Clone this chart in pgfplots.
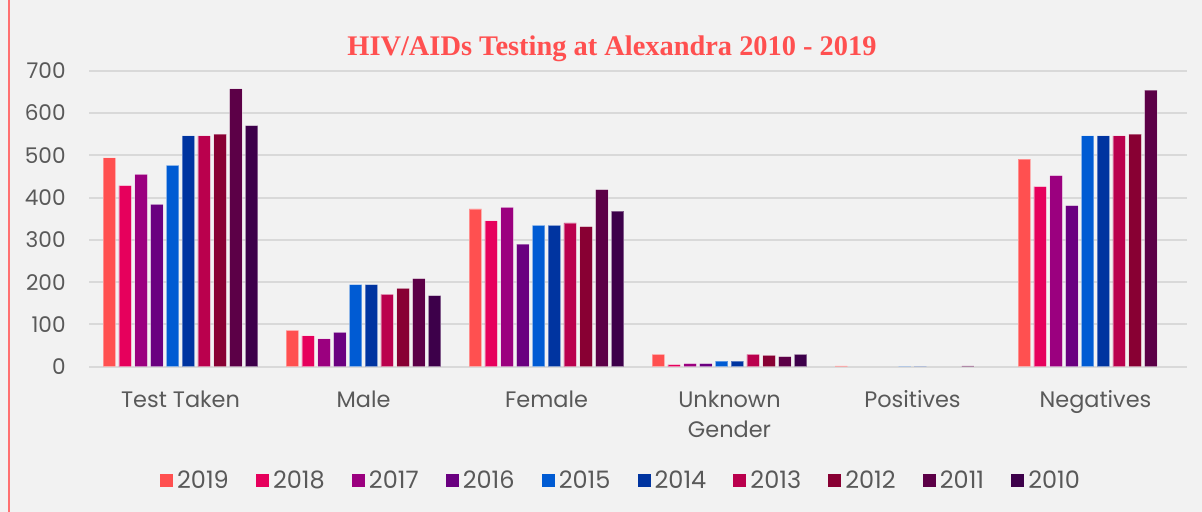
\documentclass[border=0pt]{standalone}
\usepackage{fontspec}
\setmainfont{Poppins}
\newfontfamily\titlefont{Liberation Serif}
\usepackage{pgfplots}
\pgfplotsset{compat=1.18}
\definecolor{bgcol}{HTML}{F2F2F2}
\definecolor{bordercol}{HTML}{FF7070}
\definecolor{gridcol}{HTML}{D9D9D9}
\definecolor{labcol}{HTML}{595959}
\definecolor{titlecol}{HTML}{FF5050}
\definecolor{c2019}{HTML}{FF5050}
\definecolor{c2018}{HTML}{E6005C}
\definecolor{c2017}{HTML}{9B007F}
\definecolor{c2016}{HTML}{6A0080}
\definecolor{c2015}{HTML}{005BD3}
\definecolor{c2014}{HTML}{0034A0}
\definecolor{c2013}{HTML}{BA004D}
\definecolor{c2012}{HTML}{880033}
\definecolor{c2011}{HTML}{5C0047}
\definecolor{c2010}{HTML}{3D004A}
\begin{document}
\begin{tikzpicture}
\fill[bgcol] (-44.5pt,-72.65pt) rectangle (556.5pt,183.35pt);
\useasboundingbox (-44.5pt,-72.65pt) rectangle (556.5pt,183.35pt);
\draw[bordercol, line width=1pt] (-40pt,-72.65pt) -- (-40pt,183.35pt);
\begin{axis}[
  at={(0pt,0pt)}, anchor=south west,
  scale only axis, width=549pt, height=148pt,
  xmin=-0.5, xmax=5.5, ymin=0, ymax=700,
  ybar=1.65pt, bar width=6.25pt,
  axis line style={draw=none}, tick style={draw=none},
  ymajorgrids, grid style={color=gridcol, line width=1pt},
  ytick={0,100,...,700},
  xtick={0,...,5},
  xticklabels={Test Taken, Male, Female, {Unknown\\Gender}, Positives, Negatives},
  xticklabel style={align=center, anchor=north, inner sep=0pt, yshift=-7.5pt, text=labcol, font=\fontsize{11.2}{15}\selectfont},
  yticklabel style={anchor=east, inner sep=0pt, xshift=-11.5pt, text=labcol, font=\fontsize{10.8}{12}\selectfont},
  /pgf/number format/assume math mode=true,
  legend columns=10,
  legend style={at={(0.4855,-0.386)}, anchor=center, draw=none, fill=none,
    font=\fontsize{12}{13}\selectfont, text=labcol,
    /tikz/every even column/.append style={column sep=11.6pt}},
  legend image code/.code={\fill[#1, draw=none] (0pt,-3.25pt) rectangle (6.5pt,3.25pt);},
  every axis plot/.append style={draw=white, draw opacity=0.35, line width=0.4pt},
]
\addplot[fill=c2019] coordinates {(0,494) (1,86) (2,373) (3,29) (4,2) (5,491)};
\addplot[fill=c2018] coordinates {(0,428) (1,73) (2,345) (3,5) (5,426)};
\addplot[fill=c2017] coordinates {(0,455) (1,66) (2,377) (3,7) (5,452)};
\addplot[fill=c2016] coordinates {(0,384) (1,81) (2,290) (3,7) (5,381)};
\addplot[fill=c2015] coordinates {(0,476) (1,194) (2,334) (3,13) (4,1) (5,546)};
\addplot[fill=c2014] coordinates {(0,546) (1,194) (2,334) (3,13) (4,1) (5,546)};
\addplot[fill=c2013] coordinates {(0,546) (1,171) (2,340) (3,29) (5,546)};
\addplot[fill=c2012] coordinates {(0,550) (1,185) (2,331) (3,27) (5,550)};
\addplot[fill=c2011] coordinates {(0,657) (1,208) (2,419) (3,24) (4,2) (5,654)};
\addplot[fill=c2010] coordinates {(0,570) (1,168) (2,368) (3,29)};
\legend{2019,2018,2017,2016,2015,2014,2013,2012,2011,2010}
\end{axis}
\node[text=titlecol, font=\titlefont\bfseries\fontsize{14.2}{16}\selectfont] at (261.5pt,158.9pt) {HIV/AIDs Testing at Alexandra 2010 - 2019};
\end{tikzpicture}
\end{document}
